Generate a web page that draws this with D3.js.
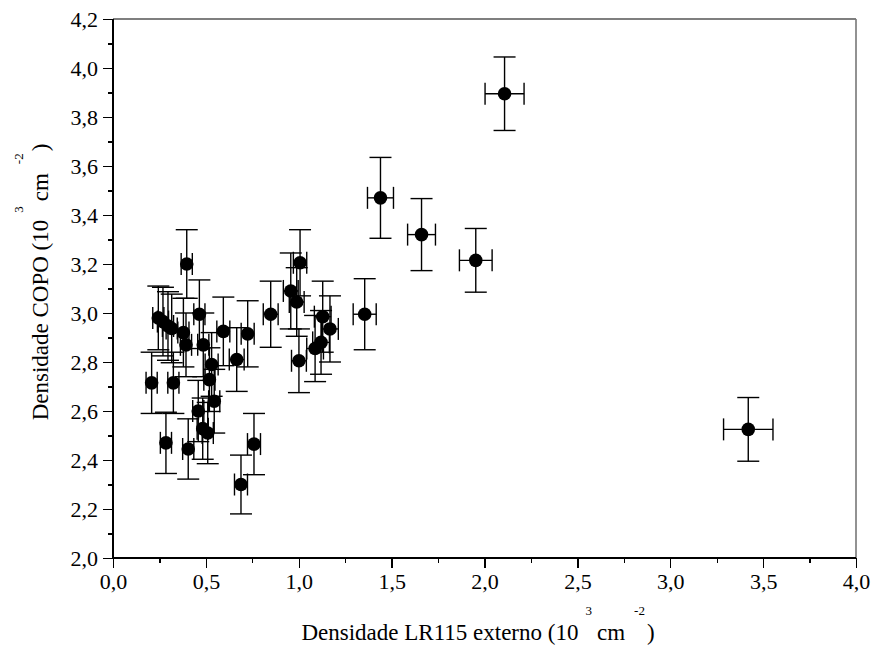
<!DOCTYPE html>
<meta charset="utf-8">
<style>
body { margin: 0; background: #ffffff; }
.axis path { display: none; }
.axis line { stroke: #000; stroke-width: 1.3; shape-rendering: crispEdges; }
.axis text { font-family: "Liberation Serif", "Times New Roman", serif; font-size: 22px; fill: #000; }
.err { stroke: #000; stroke-width: 1.4; fill: none; }
</style>
<body>
<script src="https://cdn.jsdelivr.net/npm/d3@7/dist/d3.min.js"></script>
<script>
// DATA //
var lr115   = [0.208, 0.244, 0.269, 0.296, 0.316, 0.325, 0.285, 0.379, 0.397, 0.393, 0.405, 0.459, 0.465, 0.483, 0.486, 0.510, 0.519, 0.531, 0.545, 0.594, 0.666, 0.689, 0.725, 0.759, 0.849, 0.957, 0.989, 1.001, 1.007, 1.088, 1.120, 1.129, 1.168, 1.355, 1.440, 1.661, 1.953, 2.108, 3.420];
var copo    = [2.715, 2.980, 2.965, 2.947, 2.937, 2.715, 2.470, 2.920, 3.200, 2.870, 2.445, 2.600, 2.995, 2.528, 2.870, 2.510, 2.728, 2.790, 2.640, 2.925, 2.810, 2.300, 2.915, 2.465, 2.995, 3.090, 3.045, 2.805, 3.205, 2.855, 2.880, 2.985, 2.935, 2.995, 3.470, 3.320, 3.215, 3.895, 2.525];
var err_x   = [0.030, 0.030, 0.030, 0.030, 0.030, 0.030, 0.030, 0.030, 0.030, 0.030, 0.030, 0.030, 0.030, 0.030, 0.030, 0.030, 0.030, 0.035, 0.030, 0.035, 0.040, 0.035, 0.035, 0.035, 0.040, 0.040, 0.040, 0.040, 0.036, 0.045, 0.045, 0.045, 0.045, 0.062, 0.070, 0.075, 0.088, 0.105, 0.133];
var err_y   = [0.125, 0.130, 0.140, 0.140, 0.140, 0.125, 0.125, 0.140, 0.140, 0.130, 0.123, 0.125, 0.140, 0.125, 0.130, 0.125, 0.130, 0.130, 0.130, 0.140, 0.130, 0.120, 0.135, 0.125, 0.135, 0.155, 0.140, 0.130, 0.135, 0.135, 0.130, 0.145, 0.135, 0.145, 0.165, 0.147, 0.130, 0.150, 0.130];
var x_ticks = [0, 0.5, 1.0, 1.5, 2.0, 2.5, 3.0, 3.5, 4.0];
var y_ticks = [2.0, 2.2, 2.4, 2.6, 2.8, 3.0, 3.2, 3.4, 3.6, 3.8, 4.0, 4.2];

// GENERIC VARIABLES
var width = 872, height = 648;
var m_left = 113, m_right = 856, m_top = 19, m_bottom = 558;
var cap = 11; // half length of the error bar caps
var serif = "Liberation Serif, Times New Roman, serif";
var comma = function(d) { return d3.format(".1f")(d).replace(".", ","); };

var canvas = d3.select("body").append("svg")
    .attr("width", width)
    .attr("height", height);

var x = d3.scaleLinear().domain([0, 4]).range([m_left, m_right]);
var y = d3.scaleLinear().domain([2, 4.2]).range([m_bottom, m_top]);

// MINOR TICKS
canvas.append("g").attr("class", "axis")
    .attr("transform", "translate(0," + m_bottom + ")")
    .call(d3.axisBottom(x).tickValues(d3.range(0.25, 4, 0.5)).tickSize(5).tickFormat(""));
canvas.append("g").attr("class", "axis")
    .attr("transform", "translate(" + m_left + ",0)")
    .call(d3.axisLeft(y).tickValues(d3.range(2.1, 4.2, 0.2)).tickSize(5).tickFormat(""));

// MAJOR TICKS + LABELS
var x_axis = canvas.append("g").attr("class", "axis")
    .attr("transform", "translate(0," + m_bottom + ")")
    .call(d3.axisBottom(x).tickValues(x_ticks).tickSize(10).tickPadding(5).tickFormat(comma));
var y_axis = canvas.append("g").attr("class", "axis")
    .attr("transform", "translate(" + m_left + ",0)")
    .call(d3.axisLeft(y).tickValues(y_ticks).tickSize(10).tickPadding(5).tickFormat(comma));
[x_axis, y_axis].forEach(function(a) {
  a.attr("font-family", serif).attr("font-size", 22);
  a.selectAll("text").style("font-family", serif).style("font-size", "22px").attr("fill", "#000");
});

// FRAME
canvas.append("line").attr("x1", m_left).attr("x2", m_right).attr("y1", m_top).attr("y2", m_top)
    .attr("stroke", "#000").attr("stroke-width", 1.2);
canvas.append("line").attr("x1", m_right).attr("x2", m_right).attr("y1", m_top).attr("y2", m_bottom)
    .attr("stroke", "#777").attr("stroke-width", 1.6);
canvas.append("line").attr("x1", m_left).attr("x2", m_right).attr("y1", m_bottom).attr("y2", m_bottom)
    .attr("stroke", "#000").attr("stroke-width", 2);
canvas.append("line").attr("x1", m_left).attr("x2", m_left).attr("y1", m_top).attr("y2", m_bottom)
    .attr("stroke", "#000").attr("stroke-width", 2);

// ERROR BARS
var points = d3.range(lr115.length);
var bars = canvas.append("g").attr("class", "err");
points.forEach(function(i) {
  var cx = x(lr115[i]), cy = y(copo[i]);
  var x0 = x(lr115[i] - err_x[i]), x1 = x(lr115[i] + err_x[i]);
  var y0 = y(copo[i] - err_y[i]), y1 = y(copo[i] + err_y[i]);
  bars.append("line").attr("x1", cx).attr("x2", cx).attr("y1", y0).attr("y2", y1);
  bars.append("line").attr("x1", cx - cap).attr("x2", cx + cap).attr("y1", y0).attr("y2", y0);
  bars.append("line").attr("x1", cx - cap).attr("x2", cx + cap).attr("y1", y1).attr("y2", y1);
  bars.append("line").attr("x1", x0).attr("x2", x1).attr("y1", cy).attr("y2", cy);
  bars.append("line").attr("x1", x0).attr("x2", x0).attr("y1", cy - cap).attr("y2", cy + cap);
  bars.append("line").attr("x1", x1).attr("x2", x1).attr("y1", cy - cap).attr("y2", cy + cap);
});

// DOTS
canvas.append("g").selectAll("circle")
    .data(points)
  .enter().append("circle")
    .attr("cx", function(i) { return x(lr115[i]); })
    .attr("cy", function(i) { return y(copo[i]); })
    .attr("r", 6.8)
    .attr("fill", "#000");

// AXIS TITLES
function title(g, name) {
  var t = g.append("text")
      .attr("font-family", serif)
      .attr("font-size", 23)
      .attr("fill", "#000")
      .attr("text-anchor", "middle");
  t.append("tspan").text(name + " (10");
  t.append("tspan").attr("font-size", 13).attr("dx", 7).attr("dy", -25).text("3");
  t.append("tspan").attr("dx", 5).attr("dy", 25).text("cm");
  t.append("tspan").attr("font-size", 13).attr("dx", 9).attr("dy", -25).text("-2");
  t.append("tspan").attr("dx", 2).attr("dy", 25).text(")");
  return t;
}
title(canvas.append("g").attr("transform", "translate(478,640)"), "Densidade LR115 externo");
title(canvas.append("g").attr("transform", "translate(48,282) rotate(-90)"), "Densidade COPO");

</script>
</body>
